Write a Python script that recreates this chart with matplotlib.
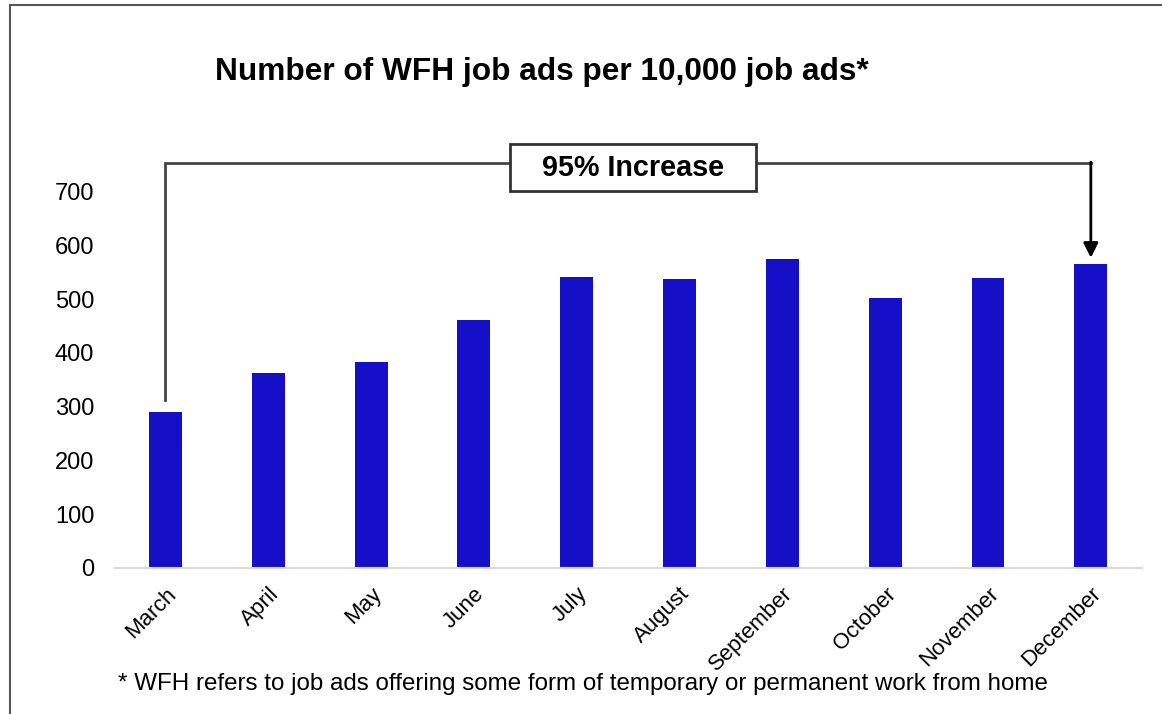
import matplotlib
matplotlib.use('Agg')
import matplotlib.pyplot as plt
from matplotlib.patches import Rectangle

months = ['March', 'April', 'May', 'June', 'July', 'August',
          'September', 'October', 'November', 'December']
wfh_ads = [291, 362, 383, 461, 542, 537, 575, 502, 539, 565]
y_ticks = [0, 100, 200, 300, 400, 500, 600, 700]

plt.rcParams['font.family'] = ['Liberation Sans', 'DejaVu Sans']

fig = plt.figure(figsize=(11.62, 7.14), dpi=100)
ax = fig.add_axes([0.099, 0.2045, 0.884, 0.527])

x = list(range(len(months)))
ax.bar(x, wfh_ads, width=0.32, color='#1510c8')
ax.set_xlim(-0.49, 9.5)
ax.set_ylim(0, 700)
ax.set_yticks(y_ticks)
ax.set_xticks(x)
ax.set_xticklabels(months, rotation=45, ha='right', rotation_mode='anchor')
ax.tick_params(axis='y', length=0, labelsize=17, pad=15)
ax.tick_params(axis='x', length=0, labelsize=16, pad=11)
for s in ['top', 'right', 'left']:
    ax.spines[s].set_visible(False)
ax.spines['bottom'].set_color('#d9d9d9')
ax.spines['bottom'].set_linewidth(1.5)

# bracket from March to December
line_y = 754
ax.plot([0, 0, 9], [wfh_ads[0] + 22, line_y, line_y], color='#444444', lw=2,
        clip_on=False, solid_joinstyle='miter')
ax.annotate('', xy=(9, wfh_ads[-1] + 12), xytext=(9, line_y + 1),
            arrowprops=dict(arrowstyle='-|>', color='black', lw=2,
                            mutation_scale=22, shrinkA=0, shrinkB=0),
            annotation_clip=False)
box = Rectangle((3.356, 702), 2.384, 86, facecolor='white', edgecolor='#333333',
                lw=2, clip_on=False, zorder=5)
ax.add_patch(box)
ax.text(4.548, 745, '95% Increase', ha='center', va='center', fontsize=20.7,
        fontweight='bold', zorder=6, clip_on=False)

fig.text(0.4665, 1 - 72 / 714, 'Number of WFH job ads per 10,000 job ads*',
         ha='center', va='center', fontsize=22.8, fontweight='bold')
fig.text(118 / 1162, 1 - 684 / 714,
         '* WFH refers to job ads offering some form of temporary or permanent work from home',
         ha='left', va='center', fontsize=17.4)

# outer frame, cut off at right and bottom like the screenshot
fig.patches.append(Rectangle((10 / 1162, -0.1), 1.2, 1 - 5 / 714 + 0.1,
                             transform=fig.transFigure, fill=False,
                             edgecolor='#555555', lw=1.5))

fig.savefig('out.png', dpi=100)
